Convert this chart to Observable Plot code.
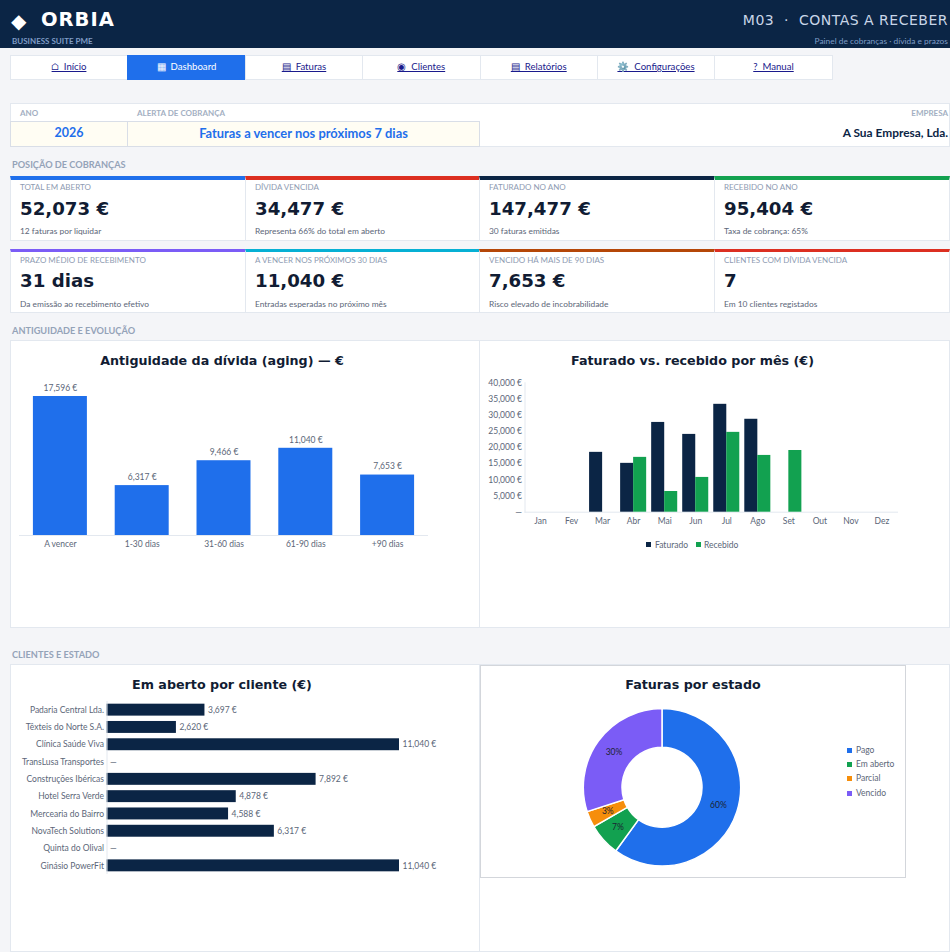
<!DOCTYPE html>
<html lang="pt"><head><meta charset="utf-8">
<script src="https://cdn.jsdelivr.net/npm/d3@7"></script>
<script src="https://cdn.jsdelivr.net/npm/@observablehq/plot@0.6"></script>
<style>
html,body{margin:0;padding:0;background:#F4F5F8;}
#page{position:relative;width:950px;height:952px;overflow:hidden;font-family:Lato,sans-serif;background:#F4F5F8;}
.t{position:absolute;white-space:pre;line-height:12px;height:12px;}
.box{position:absolute;box-sizing:border-box;}
.sec{font-weight:700;font-size:9.2px;color:#94A3B8;}
.lab{font-size:8px;font-weight:700;color:#A3AFC2;}
.kl{font-size:8px;color:#8E9BB2;}
.kv{font-family:"DejaVu Sans";font-weight:700;font-size:18.2px;color:#111C33;line-height:24px;height:24px;}
.kn{font-size:8.4px;color:#5B6678;}
.title{font-family:"DejaVu Sans";font-weight:700;font-size:12.7px;color:#111C33;text-align:center;line-height:16px;height:16px;}
.leg{font-size:8.5px;color:#5B6678;}
.nav{position:absolute;box-sizing:border-box;top:55px;height:25px;background:#fff;border:1px solid #E3E8EF;text-align:center;line-height:21px;font-size:9.6px;white-space:pre;}
.nav a{color:#1a1a8c;text-decoration:underline;}
.nav.on{background:#1F6FEB;border-color:#1F6FEB;}
.nav.on span{color:#fff;}
.plot{position:absolute;}
svg{display:block;}
</style></head><body><div id="page"></div>
<script>
const NAVY="#0B2545",BLUE="#1F6FEB",GREEN="#12A150",RED="#DC2F21",PURPLE="#7B5CF6",CYAN="#06B0D4",BROWN="#B54708",ORANGE="#F68E0B";

const navItems=["⌂  Início","▦  Dashboard","▤  Faturas","◉  Clientes","▤  Relatórios","⚙️  Configurações","?  Manual"];

const kpiLabels=["TOTAL EM ABERTO","DÍVIDA VENCIDA","FATURADO NO ANO","RECEBIDO NO ANO","PRAZO MÉDIO DE RECEBIMENTO","A VENCER NOS PRÓXIMOS 30 DIAS","VENCIDO HÁ MAIS DE 90 DIAS","CLIENTES COM DÍVIDA VENCIDA"];
const kpiValues=["52,073 €","34,477 €","147,477 €","95,404 €","31 dias","11,040 €","7,653 €","7"];
const kpiNotes=["12 faturas por liquidar","Representa 66% do total em aberto","30 faturas emitidas","Taxa de cobrança: 65%","Da emissão ao recebimento efetivo","Entradas esperadas no próximo mês","Risco elevado de incobrabilidade","Em 10 clientes registados"];
const kpiColors=[BLUE,RED,NAVY,GREEN,PURPLE,CYAN,BROWN,RED];

const agingBuckets=["A vencer","1-30 dias","31-60 dias","61-90 dias","+90 dias"];
const agingValues=[17596,6317,9466,11040,7653];

const months=["Jan","Fev","Mar","Abr","Mai","Jun","Jul","Ago","Set","Out","Nov","Dez"];
const faturado=[0,0,18500,15100,27750,24050,33350,28727,0,0,0,0];
const recebido=[0,0,0,16950,6400,10750,24680,17550,19074,0,0,0];

const clientes=["Padaria Central Lda.","Têxteis do Norte S.A.","Clínica Saúde Viva","TransLusa Transportes","Construções Ibéricas","Hotel Serra Verde","Mercearia do Bairro","NovaTech Solutions","Quinta do Olival","Ginásio PowerFit"];
const emAberto=[3697,2620,11040,0,7892,4878,4588,6317,0,11040];

const estados=["Pago","Em aberto","Parcial","Vencido"];
const estadoFaturas=[18,2,1,9];
const estadoCores=[BLUE,GREEN,ORANGE,PURPLE];

const page=document.getElementById("page");
const eur=d3.format(",.0f");
function el(cls,css,html){const d=document.createElement("div");d.className=cls;d.style.cssText=css;if(html!=null)d.innerHTML=html;page.appendChild(d);return d;}
function tx(cls,x,y,s,css=""){return el("t "+cls,`left:${x}px;top:${y-6}px;${css}`,s);}
function txR(cls,right,y,s,css=""){return el("t "+cls,`right:${950-right}px;top:${y-6}px;${css}`,s);}

// header
el("box",`left:0;top:0;width:950px;height:48px;background:${NAVY}`);
tx("",11,21,"◆",`font-family:'DejaVu Sans';font-size:20px;color:#fff;line-height:12px`);
tx("",41,20,"ORBIA",`font-family:'DejaVu Sans';font-weight:700;font-size:19.5px;letter-spacing:1px;color:#fff`);
tx("",12,41,"BUSINESS SUITE PME",`font-size:8px;font-weight:700;color:#7F9CC6`);
txR("",948,20,"M03  ·  CONTAS A RECEBER",`font-family:'DejaVu Sans';font-size:14px;letter-spacing:.5px;color:#C9D6E8`);
txR("",948,41,"Painel de cobranças · dívida e prazos",`font-size:8.4px;color:#7F9CC6`);

// navigation
const navX=[10,127,245,362,479.5,597,714,832];
navItems.forEach((s,i)=>{
  el("nav"+(i==1?" on":""),`left:${navX[i]}px;width:${navX[i+1]-navX[i]+1}px;`,
     i==1?`<span>${s}</span>`:`<a>${s}</a>`);
});

// filter strip
el("box",`left:10px;top:103px;width:940px;height:44px;background:#fff;border:1px solid #E3E8EF`);
el("box",`left:10px;top:121px;width:118px;height:26px;background:#FFFDF3;border:1px solid #D9DEE7`);
el("box",`left:127px;top:121px;width:353px;height:26px;background:#FFFDF3;border:1px solid #D9DEE7`);
tx("lab",20,113,"ANO");
tx("lab",137,113,"ALERTA DE COBRANÇA");
txR("lab",948,113,"EMPRESA");
el("t","left:10px;width:118px;top:127px;text-align:center;font-weight:700;font-size:12.5px;color:"+BLUE,"2026");
el("t","left:127px;width:353px;top:127px;text-align:center;font-weight:700;font-size:12.9px;color:"+BLUE,"Faturas a vencer nos próximos 7 dias");
txR("",948,133,"A Sua Empresa, Lda.",`font-weight:700;font-size:11.9px;color:${NAVY}`);

// sections
tx("sec",12,164.5,"POSIÇÃO DE COBRANÇAS");
tx("sec",12,330.5,"ANTIGUIDADE E EVOLUÇÃO");
tx("sec",12,654.5,"CLIENTES E ESTADO");

// KPI cards
const cardX=[10,245,479,714,950];
kpiLabels.forEach((lab,i)=>{
  const c=i%4,r=i<4?0:1;
  const top=r?249:176,h=r?64:65,bar=r?3:4;
  el("box",`left:${cardX[c]}px;top:${top}px;width:${cardX[c+1]-cardX[c]+(c<3?1:0)}px;height:${h}px;background:#fff;border:1px solid #E3E8EF;border-top:${bar}px solid ${kpiColors[i]}`);
  const x=cardX[c]+10;
  tx("kl",x,r?260:187,lab);
  el("t kv",`left:${x}px;top:${(r?281:209)-12}px`,kpiValues[i]);
  tx("kn",x,r?304:231,kpiNotes[i]);
});

// chart panels
el("box","left:10px;top:340px;width:470px;height:288px;background:#fff;border:1px solid #E3E8EF");
el("box","left:479px;top:340px;width:471px;height:288px;background:#fff;border:1px solid #E3E8EF");
el("box","left:10px;top:664px;width:470px;height:288px;background:#fff;border:1px solid #E3E8EF");
el("box","left:479px;top:664px;width:471px;height:288px;background:#fff;border:1px solid #E3E8EF");
el("box","left:480px;top:665px;width:426px;height:213px;background:#fff;border:1px solid #D3D6DB");

function put(svg,x,y){const w=document.createElement("div");w.className="plot";w.style.left=x+"px";w.style.top=y+"px";w.appendChild(svg);page.appendChild(w);}
const plotStyle={fontFamily:"Lato",fontSize:"8.5px",color:"#5B6678",background:"transparent",overflow:"visible"};

// aging
el("t title","left:10px;width:424px;top:353px","Antiguidade da dívida (aging) — €");
const agingData=agingBuckets.map((b,i)=>({b,v:agingValues[i]}));
put(Plot.plot({
  width:469,height:288,marginLeft:9,marginRight:51,marginTop:56,marginBottom:93,style:plotStyle,
  x:{domain:agingBuckets,paddingInner:0.34,paddingOuter:0.17,round:false,label:null},
  y:{domain:[0,17596],axis:null},
  marks:[
    Plot.barY(agingData,{x:"b",y:"v",fill:BLUE}),
    Plot.ruleY([0],{stroke:"#E3E8EF"}),
    Plot.axisX({tickSize:0,tickPadding:5,label:null}),
    Plot.text(agingData,{x:"b",y:"v",text:d=>eur(d.v)+" €",dy:-8.5,lineAnchor:"middle"})
  ]
}),10,340);

// monthly
el("t title","left:480px;width:425px;top:353px","Faturado vs. recebido por mês (€)");
const mData=months.map((m,i)=>({m,f:faturado[i],r:recebido[i]}));
put(Plot.plot({
  width:470,height:288,marginLeft:44.5,marginRight:53,marginTop:42.3,marginBottom:116.3,style:plotStyle,
  x:{domain:months,paddingInner:0.58,paddingOuter:0.29,round:false,label:null},
  y:{domain:[0,40000],label:null},
  marks:[
    Plot.frame({anchor:"left",stroke:"#E3E8EF"}),
    Plot.frame({anchor:"bottom",stroke:"#E3E8EF"}),
    Plot.barY(mData,{x:"m",y:"f",fill:NAVY,dx:-6.5}),
    Plot.barY(mData,{x:"m",y:"r",fill:GREEN,dx:6.5}),
    Plot.axisX({tickSize:0,tickPadding:5.5,label:null}),
    Plot.axisY({ticks:d3.range(0,40001,5000),tickSize:0,tickPadding:3,label:null,tickFormat:d=>d===0?"—":eur(d)+" €"})
  ]
}),480,340);
el("box",`left:646px;top:542px;width:5px;height:5px;background:${NAVY}`);
tx("leg",655,545,"Faturado");
el("box",`left:696px;top:542px;width:5px;height:5px;background:${GREEN}`);
tx("leg",704,545,"Recebido");

// clients
el("t title","left:10px;width:424px;top:677px","Em aberto por cliente (€)");
const cData=clientes.map((c,i)=>({c,v:emAberto[i]}));
put(Plot.plot({
  width:469,height:288,marginLeft:96.5,marginRight:80,marginTop:37,marginBottom:78,style:plotStyle,
  x:{domain:[0,11040],axis:null},
  y:{domain:clientes,paddingInner:0.31,paddingOuter:0.155,round:false,label:null},
  marks:[
    Plot.barX(cData,{y:"c",x:"v",fill:NAVY}),
    Plot.ruleX([0],{stroke:"#E3E8EF"}),
    Plot.axisY({tickSize:0,tickPadding:3,label:null}),
    Plot.text(cData,{y:"c",x:"v",text:d=>d.v?eur(d.v)+" €":"—",textAnchor:"start",dx:3})
  ]
}),10,664);

// status donut
el("t title","left:480px;width:426px;top:677px","Faturas por estado");
const eData=estados.map((e,i)=>({e,n:estadoFaturas[i]}));
const total=d3.sum(estadoFaturas);
const cx=182,cy=122.3,R=78.7,r0=40;
put(Plot.plot({
  width:426,height:213,margin:0,style:plotStyle,
  x:{domain:[0,total],range:[0,2*Math.PI],axis:null},
  color:{domain:estados,range:estadoCores},
  marks:[
    Plot.barX(eData,Plot.stackX({x:"n",fill:"e",order:null,
      render(index,scales,values){
        const g=d3.create("svg:g").attr("transform",`translate(${cx},${cy})`);
        const arc=d3.arc().innerRadius(r0).outerRadius(R);
        for(const i of index){
          const a={startAngle:values.x1[i],endAngle:values.x2[i]};
          g.append("path").attr("d",arc(a)).attr("fill",values.fill[i]).attr("stroke","#fff").attr("stroke-width",1.5);
        }
        for(const i of index){
          const a={startAngle:values.x1[i],endAngle:values.x2[i]};
          const [x,y]=arc.centroid(a);
          g.append("text").attr("x",x).attr("y",y).attr("text-anchor","middle").attr("dy","0.32em")
           .attr("fill","#1B2333").text(d3.format(".0%")(eData[i].n/total));
        }
        return g.node();
      }}))
  ]
}),480,665);
const legY=[750,764,778,793];
estados.forEach((e,i)=>{
  el("box",`left:847px;top:${legY[i]-2.5}px;width:5px;height:5px;background:${estadoCores[i]}`);
  tx("leg",856,legY[i],e);
});
</script></body></html>
